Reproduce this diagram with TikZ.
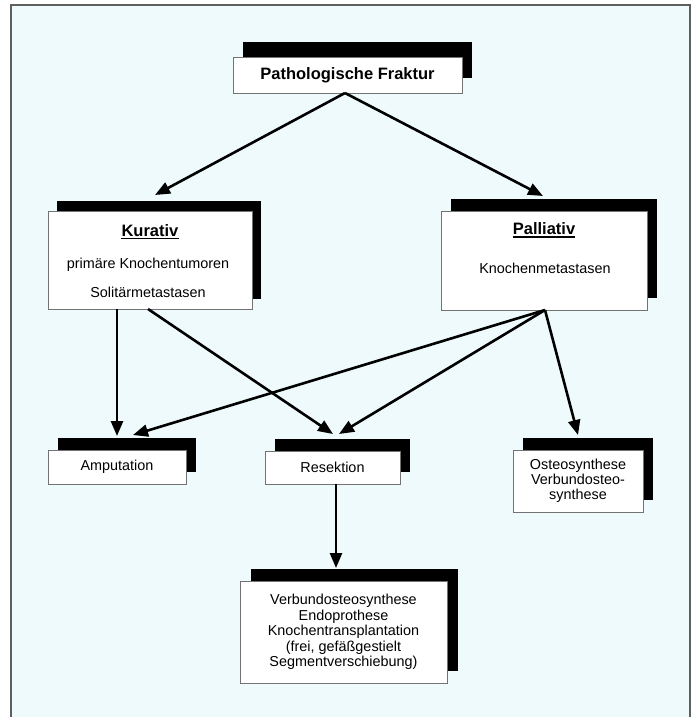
\documentclass[tikz,border=0pt]{standalone}
\usepackage{fontspec}
\setmainfont{Liberation Sans}
\usetikzlibrary{arrows.meta,shadows}
\definecolor{bgcyan}{RGB}{239,250,252}
\definecolor{framegray}{RGB}{95,95,95}
\begin{document}
\begin{tikzpicture}[x=1pt,y=-1pt,
  box/.style={draw=black!55, line width=0.6pt, fill=white, inner sep=0pt,
    align=center, font=\fontsize{14.4}{15.5}\selectfont},
  shadowbox/.style args={#1/#2}{drop shadow={shadow xshift=#1pt, shadow yshift=#2pt, fill=black, opacity=1}},
  headtext/.style={inner sep=0pt, anchor=base, font=\bfseries\fontsize{16.5}{18}\selectfont},
  bodytext/.style={inner sep=0pt, anchor=base, font=\fontsize{14.4}{15.5}\selectfont},
  uline/.style={line width=1.3pt},
  conn/.style={line width=2.6pt, -{Triangle[length=15pt,width=12pt]}}
]
\useasboundingbox (0,0) rectangle (696,717);
\fill[white] (0,0) rectangle (696,717);
\fill[bgcyan] (11,5) rectangle (690,717);
\draw[framegray, line width=1.6pt] (11,717) -- (11,5) -- (690,5) -- (690,717);

% boxes
\node[box, shadowbox=10/15, minimum width=229pt, minimum height=36pt,
      font=\bfseries\fontsize{16.5}{18}\selectfont] (title) at (347.5,75) {Pathologische Fraktur};
\node[box, shadowbox=9/10, minimum width=204pt, minimum height=98pt] (kur) at (150,260) {};
\node[box, shadowbox=10/12, minimum width=206pt, minimum height=99pt] (pal) at (544,260.5) {};
\node[box, shadowbox=10/12, minimum width=138pt, minimum height=34pt] (amp) at (117,467) {Amputation};
\node[box, shadowbox=10/12, minimum width=135pt, minimum height=33pt] (res) at (332.5,467.5) {Resektion};
\node[box, shadowbox=10/12, minimum width=130pt, minimum height=62pt,
      font=\fontsize{14.4}{15}\selectfont] (ost) at (578,481) {Osteosynthese\\Verbundosteo-\\synthese};
\node[box, shadowbox=11/12, minimum width=207pt, minimum height=102pt] (verb) at (343.5,632)
  {Verbundosteosynthese\\Endoprothese\\Knochentransplantation\\(frei, gefäßgestielt\\Segmentverschiebung)};

% texts inside Kurativ / Palliativ
\node[headtext] (kurh) at (150,236) {Kurativ};
\draw[uline] ([yshift=-2.5pt]kurh.base west) -- ([yshift=-2.5pt]kurh.base east);
\node[bodytext] (kur1) at (148,268) {primäre Knochentumoren};
\node[bodytext] (kur2) at (148,297) {Solitärmetastasen};
\node[headtext] (palh) at (544,234) {Palliativ};
\draw[uline] ([yshift=-3pt]palh.base west) -- ([yshift=-3pt]palh.base east);
\node[bodytext] (pal1) at (545,273) {Knochenmetastasen};

% connector end points
\coordinate (t0) at (345,93);
\coordinate (kin) at (155,195);
\coordinate (pin) at (543,196);
\coordinate (kv) at (117,309);
\coordinate (kd) at (148,309);
\coordinate (pd) at (545,310);
\coordinate (ampt1) at (117,436);
\coordinate (ampt2) at (133,435);
\coordinate (rest1) at (333,434);
\coordinate (rest2) at (339,434);
\coordinate (ostt) at (578,435);
\coordinate (rd) at (336,484);
\coordinate (verbt) at (336,568);

\draw[conn] (t0) -- (kin);
\draw[conn] (t0) -- (pin);
\draw[conn] (kv) -- (ampt1);
\draw[conn] (kd) -- (rest1);
\draw[conn] (pd) -- (ampt2);
\draw[conn] (pd) -- (rest2);
\draw[conn] (pd) -- (ostt);
\draw[conn] (rd) -- (verbt);
\end{tikzpicture}
\end{document}
